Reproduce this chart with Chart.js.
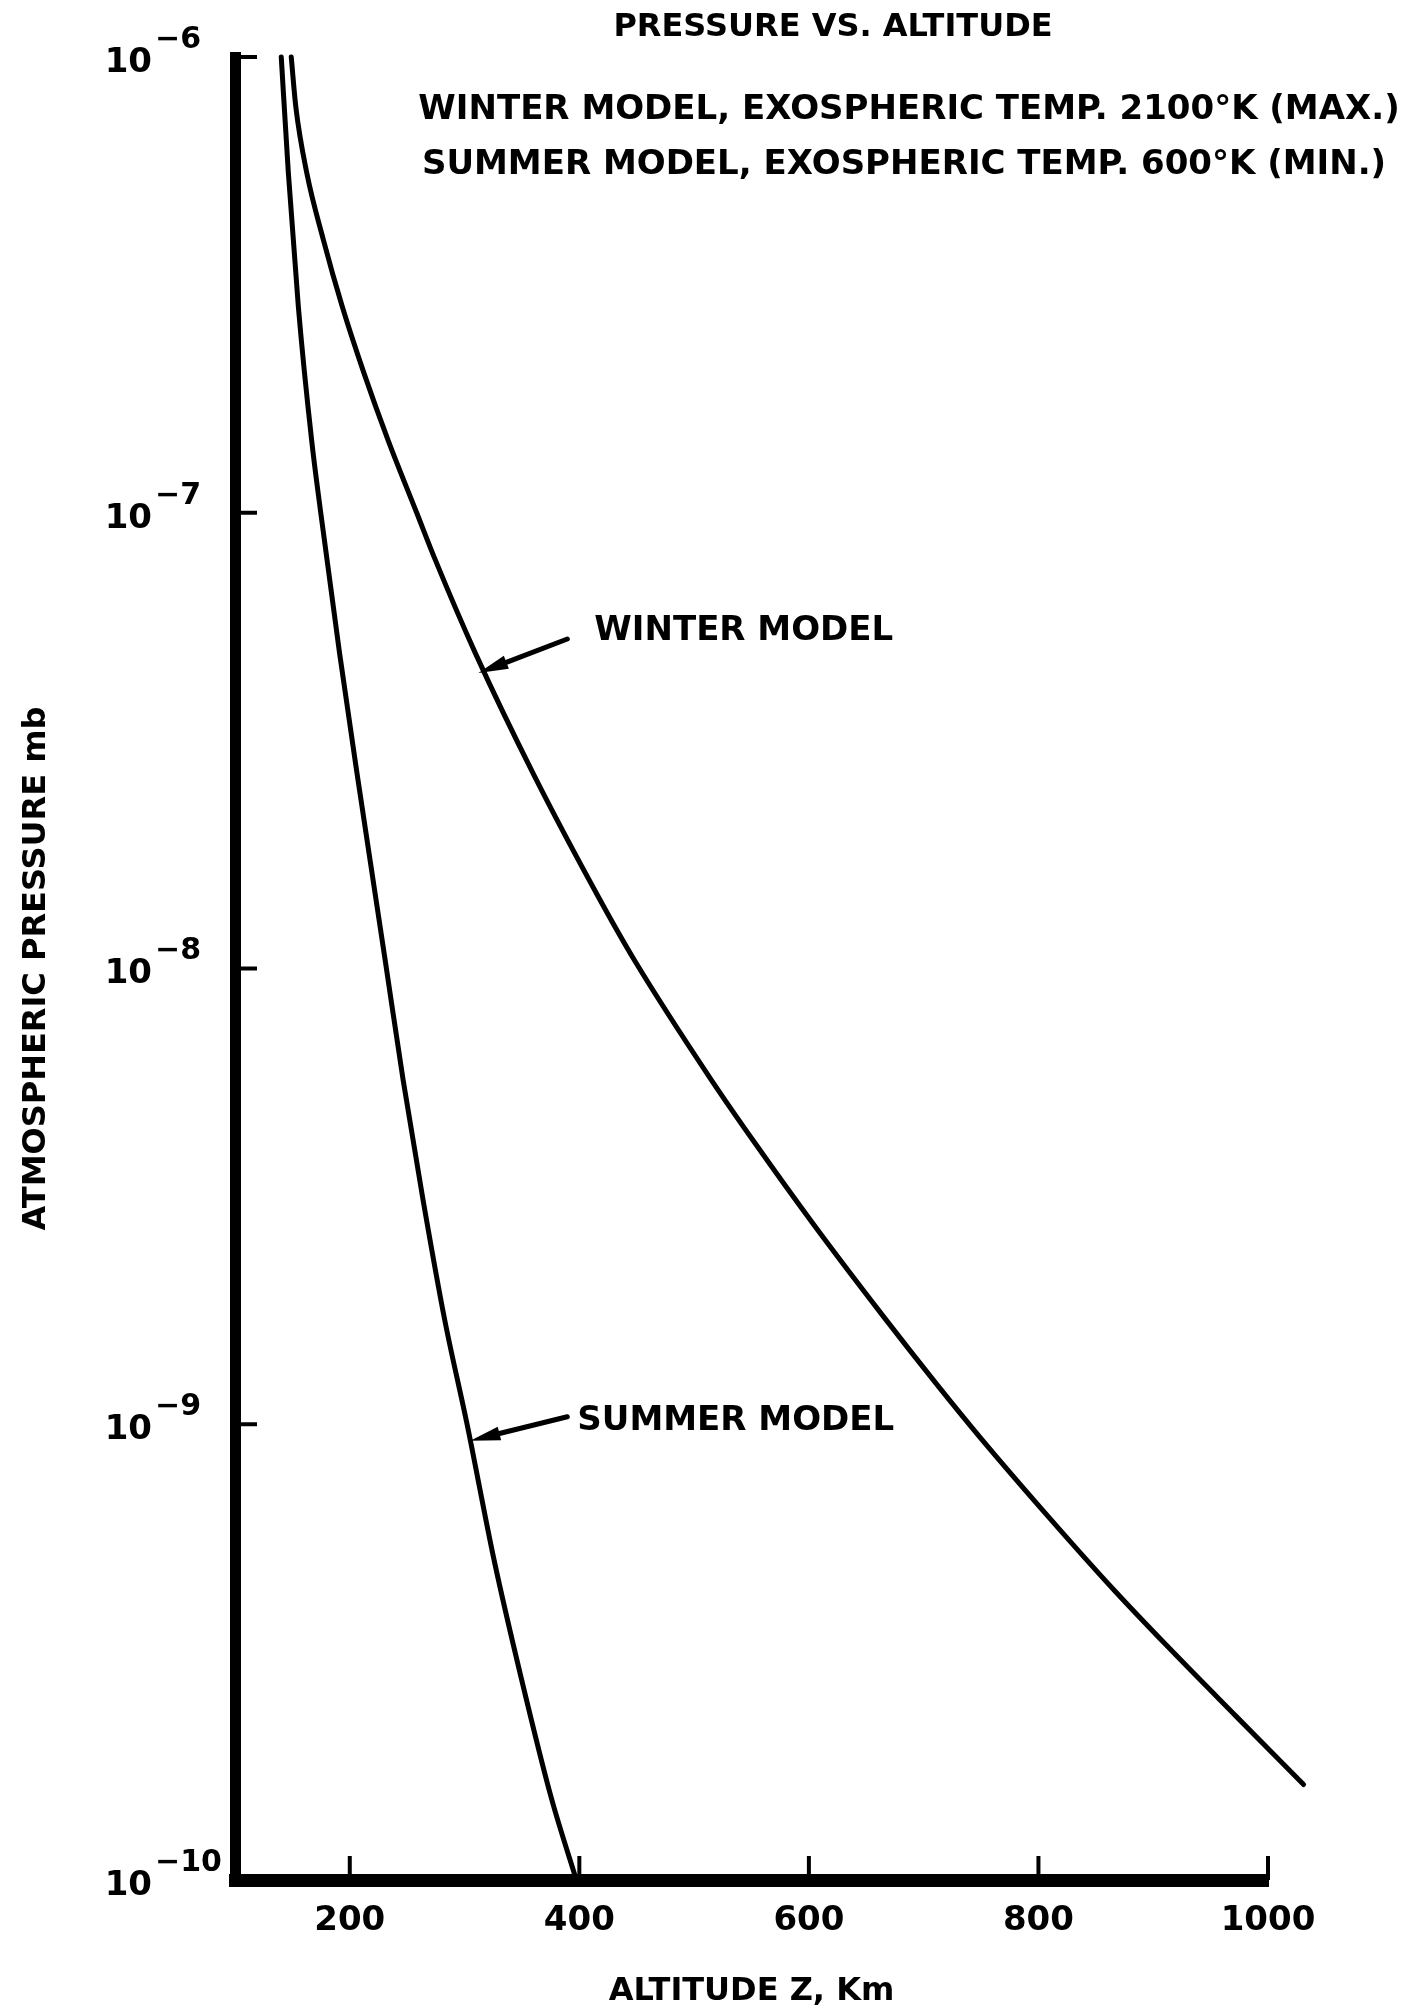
<!DOCTYPE html>
<html>
<head>
<meta charset="utf-8">
<title>Pressure vs. Altitude</title>
<script src="https://cdn.jsdelivr.net/npm/chart.js@4.4.0/dist/chart.umd.min.js"></script>
<style>
  html, body { margin: 0; padding: 0; background: #fff; }
  canvas { display: block; }
</style>
</head>
<body>
<canvas id="chart" width="1416" height="2015"></canvas>
<script>
// altitude in km, pressure in mb
const summerAlt = [140.3, 146.5, 155.2, 166.8, 174.7, 191.1, 206.6, 230.9, 246.5, 263.9, 282.8, 302.2, 325.7, 349.6, 375.7, 397.4];
const summerP = [1.0e-6, 5.56e-7, 2.83e-7, 1.44e-7, 1.0e-7, 4.92e-8, 2.65e-8, 1.04e-8, 5.69e-9, 3.10e-9, 1.69e-9, 1.0e-9, 5.04e-10, 2.76e-10, 1.51e-10, 1.0e-10];

const winterAlt = [149.0, 153.0, 162.6, 177.0, 193.5, 212.2, 233.5, 258.3, 274.6, 309.4, 360.7, 417.0, 448.3, 514.5, 553.0, 604.3, 663.7, 711.8, 748.2, 810.3, 865.0, 912.2, 972.7, 1031.0];
const winterP = [1.0e-6, 7.77e-7, 5.56e-7, 3.97e-7, 2.83e-7, 2.03e-7, 1.44e-7, 1.0e-7, 7.87e-8, 4.92e-8, 2.65e-8, 1.43e-8, 1.04e-8, 5.72e-9, 4.14e-9, 2.74e-9, 1.74e-9, 1.22e-9, 9.42e-10, 6.20e-10, 4.35e-10, 3.26e-10, 2.28e-10, 1.62e-10];

const xTicks = [200, 400, 600, 800, 1000];
const yTicks = [1e-10, 1e-9, 1e-8, 1e-7, 1e-6];
const yTickExp = ['\u221210', '\u22129', '\u22128', '\u22127', '\u22126'];

const headings = [
  'PRESSURE VS. ALTITUDE',
  'WINTER MODEL, EXOSPHERIC TEMP. 2100\u00b0K (MAX.)',
  'SUMMER MODEL, EXOSPHERIC TEMP. 600\u00b0K (MIN.)'
];

// arrow labels pointing at the curves
const callouts = [
  { text: 'WINTER MODEL', alt: 312, p: 4.45e-8, tail: [89, -34], label: [116, -42] },
  { text: 'SUMMER MODEL', alt: 305, p: 9.2e-10, tail: [97, -24], label: [107, -20] }
];

const FAMILY = '"DejaVu Sans", "Liberation Sans", sans-serif';
const boldFont = size => 'bold ' + size + 'px ' + FAMILY;

const toPoints = (xs, ys) => xs.map((v, i) => ({ x: v, y: ys[i] }));

const whiteBg = {
  id: 'whiteBg',
  beforeDraw(chart) {
    const ctx = chart.ctx;
    ctx.save();
    ctx.fillStyle = '#fff';
    ctx.fillRect(0, 0, chart.width, chart.height);
    ctx.restore();
  }
};

// short tick marks pointing into the plot, plus the 10^n labels
const axisMarks = {
  id: 'axisMarks',
  afterDraw(chart) {
    const { ctx, chartArea, scales: { x, y } } = chart;
    ctx.save();
    ctx.strokeStyle = '#000';
    ctx.lineWidth = 4;
    ctx.lineCap = 'butt';
    x.ticks.forEach(t => {
      const px = x.getPixelForValue(t.value);
      ctx.beginPath();
      ctx.moveTo(px, chartArea.bottom);
      ctx.lineTo(px, chartArea.bottom - 24);
      ctx.stroke();
    });
    y.ticks.forEach(t => {
      const py = y.getPixelForValue(t.value);
      ctx.beginPath();
      ctx.moveTo(chartArea.left, py);
      ctx.lineTo(chartArea.left + 22, py);
      ctx.stroke();
    });

    ctx.fillStyle = '#000';
    ctx.textBaseline = 'middle';
    y.ticks.forEach(t => {
      const py = y.getPixelForValue(t.value);
      const i = yTicks.indexOf(t.value);
      ctx.font = boldFont(34);
      ctx.textAlign = 'right';
      ctx.fillText('10', 152, py + 6);
      ctx.font = boldFont(30);
      ctx.textAlign = 'left';
      ctx.fillText(yTickExp[i], 155, py - 17);
    });
    ctx.restore();
  }
};

const headingText = {
  id: 'headingText',
  afterDraw(chart) {
    const ctx = chart.ctx;
    ctx.save();
    ctx.fillStyle = '#000';
    ctx.textAlign = 'center';
    ctx.textBaseline = 'middle';
    ctx.font = boldFont(32);
    ctx.fillText(headings[0], 833, 28);
    ctx.font = boldFont(34);
    ctx.fillText(headings[1], 909, 110);
    ctx.fillText(headings[2], 904, 165);
    ctx.restore();
  }
};

const calloutArrows = {
  id: 'calloutArrows',
  afterDatasetsDraw(chart) {
    const { ctx, scales: { x, y } } = chart;
    ctx.save();
    ctx.strokeStyle = '#000';
    ctx.fillStyle = '#000';
    ctx.lineWidth = 5;
    ctx.lineCap = 'round';
    callouts.forEach(c => {
      const tx = x.getPixelForValue(c.alt);
      const ty = y.getPixelForValue(c.p);
      const sx = tx + c.tail[0], sy = ty + c.tail[1];
      const ang = Math.atan2(ty - sy, tx - sx);
      const len = 30, half = 7;
      const bx = tx - len * Math.cos(ang), by = ty - len * Math.sin(ang);
      ctx.beginPath();
      ctx.moveTo(sx, sy);
      ctx.lineTo(bx, by);
      ctx.stroke();
      ctx.beginPath();
      ctx.moveTo(tx, ty);
      ctx.lineTo(bx + half * Math.sin(ang), by - half * Math.cos(ang));
      ctx.lineTo(bx - half * Math.sin(ang), by + half * Math.cos(ang));
      ctx.closePath();
      ctx.fill();

      ctx.font = boldFont(34);
      ctx.textAlign = 'left';
      ctx.textBaseline = 'middle';
      ctx.fillText(c.text, tx + c.label[0], ty + c.label[1]);
    });
    ctx.restore();
  }
};

const lineStyle = {
  borderColor: '#000',
  borderWidth: 5,
  pointRadius: 0,
  fill: false,
  cubicInterpolationMode: 'monotone',
  borderCapStyle: 'round',
  borderJoinStyle: 'round',
  clip: false
};

new Chart(document.getElementById('chart'), {
  type: 'line',
  data: {
    datasets: [
      Object.assign({ label: 'Summer model', data: toPoints(summerAlt, summerP) }, lineStyle),
      Object.assign({ label: 'Winter model', data: toPoints(winterAlt, winterP) }, lineStyle)
    ]
  },
  options: {
    responsive: false,
    animation: false,
    events: [],
    layout: { padding: { top: 57, right: 148, bottom: 0, left: 0 } },
    plugins: {
      legend: { display: false },
      tooltip: { enabled: false },
      title: { display: false }
    },
    scales: {
      x: {
        type: 'linear',
        min: 100,
        max: 1000,
        afterBuildTicks: s => { s.ticks = xTicks.map(v => ({ value: v })); },
        afterFit: s => { s.height = 135; },
        grid: { display: false, drawTicks: false },
        border: { display: true, color: '#000', width: 13 },
        ticks: {
          color: '#000',
          padding: 21,
          font: { family: FAMILY, size: 34, weight: 'bold' },
          callback: v => String(v)
        },
        title: {
          display: true,
          text: 'ALTITUDE Z, Km',
          color: '#000',
          font: { family: FAMILY, size: 32, weight: 'bold' },
          padding: { top: 0, bottom: 4 }
        }
      },
      y: {
        type: 'logarithmic',
        min: 1e-10,
        max: 1e-6,
        afterBuildTicks: s => { s.ticks = yTicks.map(v => ({ value: v })); },
        afterFit: s => { s.width = 235; },
        grid: { display: false, drawTicks: false },
        border: { display: true, color: '#000', width: 11 },
        ticks: { display: false },
        title: {
          display: true,
          text: 'ATMOSPHERIC PRESSURE mb',
          color: '#000',
          font: { family: FAMILY, size: 32, weight: 'bold' },
          padding: { top: 17, bottom: 0 }
        }
      }
    }
  },
  plugins: [whiteBg, axisMarks, headingText, calloutArrows]
});
</script>
</body>
</html>
